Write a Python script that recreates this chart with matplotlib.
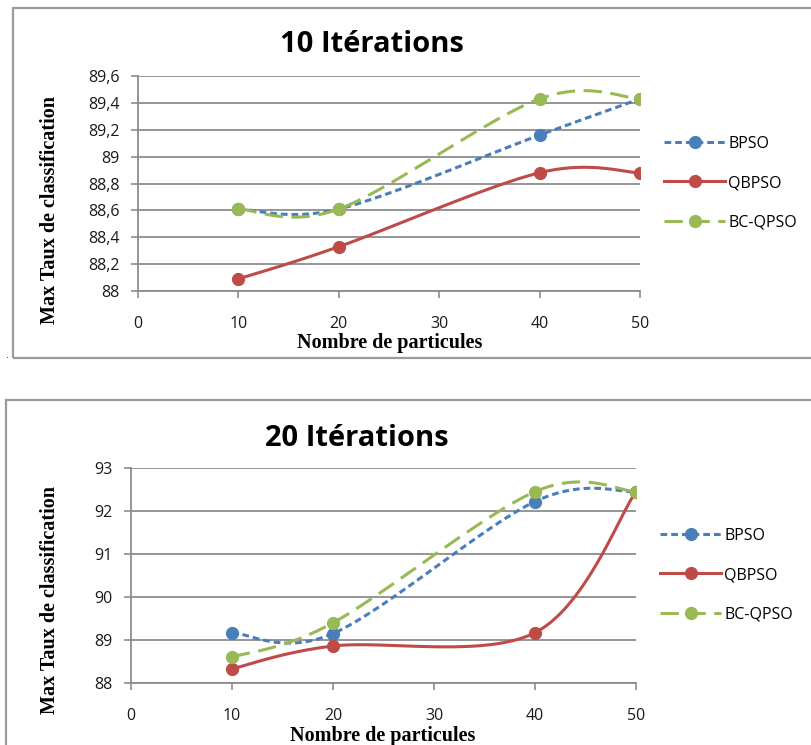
import matplotlib
matplotlib.use("Agg")
import matplotlib.pyplot as plt
import numpy as np
from matplotlib.patches import Rectangle
from matplotlib.ticker import FuncFormatter

W, H = 811, 745

particules = [10, 20, 40, 50]
series_names = ["BPSO", "QBPSO", "BC-QPSO"]

# 10 iterations
bpso_10 = [88.61, 88.61, 89.16, 89.43]
qbpso_10 = [88.09, 88.33, 88.88, 88.88]
bcqpso_10 = [88.61, 88.61, 89.43, 89.43]

# 20 iterations
bpso_20 = [89.17, 89.15, 92.22, 92.45]
qbpso_20 = [88.33, 88.86, 89.17, 92.45]
bcqpso_20 = [88.60, 89.40, 92.45, 92.45]

colors = ["#4A7EBB", "#BE4B48", "#98B954"]
dashes = [(2.2, 1.3), None, (6, 2.8)]

plt.rcParams['font.family'] = ['Open Sans', 'DejaVu Sans']


def smooth(x, y, n=40):
    # excel-like bezier smoothing
    p = np.column_stack([x, y]).astype(float)
    p = np.vstack([p[0], p, p[-1]])
    out = []
    t = np.linspace(0, 1, n)[:, None]
    for i in range(1, len(p) - 2):
        p0, p1 = p[i], p[i + 1]
        c1 = p0 + (p[i + 1] - p[i - 1]) / 6.
        c2 = p1 - (p[i + 2] - p[i]) / 6.
        seg = (1 - t) ** 3 * p0 + 3 * (1 - t) ** 2 * t * c1 + 3 * (1 - t) * t ** 2 * c2 + t ** 3 * p1
        out.append(seg if i == 1 else seg[1:])
    s = np.vstack(out)
    return s[:, 0], s[:, 1]


def comma(v, pos):
    return ('%g' % round(v, 2)).replace('.', ',')


def px_axes(fig, left, top, right, bottom):
    return fig.add_axes([left / W, 1 - bottom / H, (right - left) / W, (bottom - top) / H])


fig = plt.figure(figsize=(W / 100, H / 100), dpi=100)

# chart frames
fig.patches.append(Rectangle((13 / W, 1 - 358 / H), 1.0, 350 / H, transform=fig.transFigure,
                             fill=False, edgecolor='#9a9a9a', lw=1.6))
fig.patches.append(Rectangle((6 / W, 1 - 770 / H), 1.0, 370 / H, transform=fig.transFigure,
                             fill=False, edgecolor='#9a9a9a', lw=1.6))
fig.text(5 / W, 1 - 358 / H, '.', fontsize=8, color='#444444')


def draw(ax, data, ylim, ystep, title, tx, ty, xlab_x, ylab_y, leg_y):
    for vals, c, d, name in zip(data, colors, dashes, series_names):
        xs, ys = smooth(particules, vals)
        ln, = ax.plot(xs, ys, color=c, lw=2.2, label=name)
        if d is not None:
            ln.set_dashes(d)
        ax.plot(particules, vals, 'o', color=c, ms=8.5)
    ax.set_xlim(0, 50)
    ax.set_ylim(*ylim)
    ax.set_yticks(np.arange(ylim[0], ylim[1] + ystep / 2, ystep))
    ax.set_xticks([0, 10, 20, 30, 40, 50])
    ax.yaxis.set_major_formatter(FuncFormatter(comma))
    ax.grid(axis='y', color='#8c8c8c', lw=1.3)
    ax.set_axisbelow(True)
    for s in ['top', 'right']:
        ax.spines[s].set_visible(False)
    for s in ['left', 'bottom']:
        ax.spines[s].set_color('#8c8c8c')
        ax.spines[s].set_linewidth(1.3)
    ax.tick_params(axis='y', length=5, width=1.2, color='#8c8c8c', pad=8, labelsize=11.5, labelcolor='#1a1a1a')
    ax.tick_params(axis='x', length=5, width=1.2, color='#8c8c8c', pad=13, labelsize=11.5, labelcolor='#1a1a1a')
    fig.text(tx / W, 1 - ty / H, title, fontsize=21, fontweight='bold', ha='center', va='center')
    fig.text(xlab_x / W, 1 - (ty + 298) / H, 'Nombre de particules',
             family='Liberation Serif', fontweight='bold', fontsize=14.5, ha='center', va='center')
    fig.text(50 / W, 1 - ylab_y / H, 'Max Taux de classification', family='Liberation Serif',
             fontweight='bold', fontsize=14.5, rotation=90, ha='center', va='center')
    handles = []
    for c, d, name in zip(colors, dashes, series_names):
        h, = ax.plot([], [], color=c, lw=2.2, marker='o', ms=8.5, label=name)
        if d is not None:
            h.set_dashes(d)
        handles.append(h)
    ax.legend(handles=handles, loc='center left', bbox_to_anchor=(1.02, leg_y),
              frameon=False, handlelength=3.8, labelspacing=1.45, fontsize=11.5, handletextpad=0.2)


ax1 = px_axes(fig, 138, 76, 640, 291)
draw(ax1, [bpso_10, qbpso_10, bcqpso_10], (88, 89.6), 0.2, '10 Itérations', 372, 45, 390, 210,
     1 - (183 - 76) / (291 - 76))

ax2 = px_axes(fig, 131, 468, 636, 683)
draw(ax2, [bpso_20, qbpso_20, bcqpso_20], (88, 93), 1, '20 Itérations', 357, 438, 383, 600,
     1 - (575 - 468) / (683 - 468))

fig.savefig('out.png', dpi=100)
